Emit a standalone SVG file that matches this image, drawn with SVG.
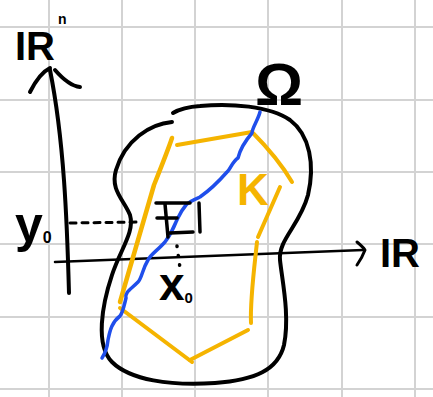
<svg xmlns="http://www.w3.org/2000/svg" width="433" height="397" viewBox="0 0 433 397">
<style>
.grid{stroke:#d3d3d3;stroke-width:2;fill:none}
.ink{stroke:#000;fill:none;stroke-linecap:round;stroke-linejoin:round}
.or{stroke:#F5B400;fill:none;stroke-width:4;stroke-linecap:round;stroke-linejoin:round}
.bl{stroke:#1F4EEB;fill:none;stroke-width:3.5;stroke-linecap:round;stroke-linejoin:round}
.t{font-family:"Liberation Sans",Arial,sans-serif;fill:#000;font-weight:bold}
</style>
<rect width="433" height="397" fill="#fff"/>
<g id="grid" class="grid">
<path d="M49,0V397M122,0V397M195,0V397M268,0V397M342,0V397M415,0V397"/>
<path d="M0,27H433M0,100H433M0,172H433M0,244H433M0,317H433M0,389H433"/>
</g>
<g id="axes" class="ink">
<path d="M69,293 C67,220 64,140 50,70" stroke-width="4"/>
<path d="M30,92 C35,82 42,72 50,68 M55,70 C62,78 70,86 80,87" stroke-width="4"/>
<path d="M55,262 L363,250" stroke-width="2.5"/>
<path d="M357,242 Q363,247 365,250 Q362,258 357,265" stroke-width="3"/>
<path d="M70,223 L140,222" stroke-width="3" stroke-dasharray="6 6"/>
<path d="M177,246 L180,268" stroke-width="3.5" stroke-dasharray="0.5 9"/>
</g>
<g id="omega" class="ink">
<path d="M172,122 C150,124 125,140 116,170 C110,190 124,200 130,215 C135,232 120,250 112,275 C102,305 95,345 112,362 C130,380 170,386 215,383 C255,380 278,370 284,345 C290,315 282,280 280,260 C278,240 300,225 308,195 C315,165 310,135 290,120 C270,106 230,103 200,106 C185,107 178,110 173,113" stroke-width="4"/>
</g>
<g id="K" class="or">
<path d="M172,138 C168,150 160,170 154,185 L120,302" stroke-width="4.5"/>
<path d="M177,145 L252,132"/>
<path d="M252,132 C265,145 282,165 292,182"/>
<path d="M280,187 L258,237"/>
<path d="M257,242 C254,270 250,300 251,323"/>
<path d="M248,330 L190,360"/>
<path d="M192,362 L120,308"/>
</g>
<g id="curve" class="bl">
<path d="M260,112 C258,120 252,128 252,133 C246,140 240,150 238,158 C232,162 230,170 227,172 C220,180 210,190 200,197 C193,200 188,202 186,205 C180,212 178,218 176,222 C172,232 168,238 165,242 C158,250 150,255 148,260 C142,270 142,278 138,282 C130,290 125,292 126,298 C124,306 123,312 120,316 C112,322 110,330 108,340 C107,350 104,355 102,358"/>
</g>
<g id="square" class="ink" stroke-width="3.5">
<path d="M156,203 L190,203 M165,204 L168,237 M157,218 L177,218 M170,233 L193,232 M199,203 L200,232"/>
</g>
<g id="labels">
<text class="t" x="15" y="60" font-size="40">IR</text>
<text class="t" x="58" y="24" font-size="14">n</text>
<text class="t" x="380" y="267" font-size="40">IR</text>
<text class="t" x="255" y="105" font-size="60">Ω</text>
<text class="t" x="15" y="242" font-size="50">y<tspan font-size="16" dy="1">0</tspan></text>
<text class="t" x="159" y="300" font-size="46">x<tspan font-size="15" dy="3">0</tspan></text>
<text class="t" x="237" y="205" font-size="44" style="fill:#F5B400">K</text>
</g>
</svg>
